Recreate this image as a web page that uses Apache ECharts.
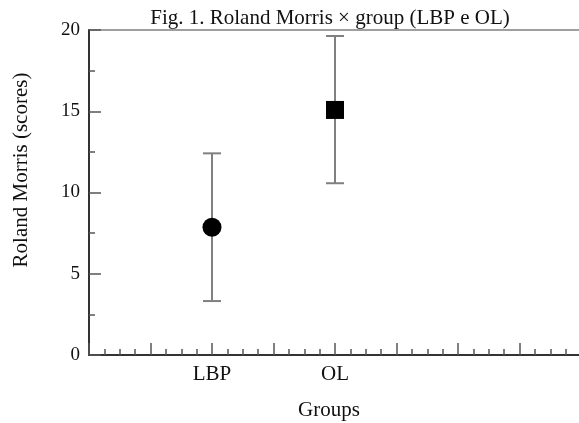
<!DOCTYPE html>
<html>
<head>
<meta charset="utf-8">
<script src="https://cdn.jsdelivr.net/npm/echarts@6/dist/echarts.min.js"></script>
<style>html,body{margin:0;padding:0;background:#fff}#c{width:579px;height:423px}</style>
</head>
<body>
<div id="c"></div>
<script>
var groups = ['LBP', 'OL'];
var positions = [2, 4];
var means = [7.86, 15.08];
var lower = [3.32, 10.57];
var upper = [12.41, 19.63];
var symbols = ['circle', 'rect'];
var yTicks = [0, 5, 10, 15, 20];

var FONT = '"Liberation Serif", "Times New Roman", serif';
var chart = echarts.init(document.getElementById('c'));

var errData = positions.map(function (p, i) { return [p, lower[i], upper[i]]; });
var meanData = positions.map(function (p, i) {
  return { value: [p, means[i]], symbol: symbols[i], symbolSize: symbols[i] === 'rect' ? 18 : 19 };
});

chart.setOption({
  animation: false,
  title: {
    text: 'Fig. 1. Roland Morris \u00d7 group (LBP e OL)',
    left: 325, top: 3, textAlign: 'center',
    textStyle: { fontFamily: FONT, fontSize: 21, fontWeight: 'normal', color: '#111' }
  },
  graphic: [{
    type: 'text', x: 21, y: 170, rotation: Math.PI / 2,
    style: {
      text: 'Roland Morris (scores)', fontFamily: FONT, fontSize: 21, fill: '#111',
      align: 'center', verticalAlign: 'middle'
    }
  }],
  grid: { left: 89, right: -2, top: 30, bottom: 68, outerBoundsMode: 'none', containLabel: false,
          show: true, borderColor: '#808080', borderWidth: 1.5 },
  xAxis: {
    type: 'value', min: 0, max: 8, interval: 1,
    name: 'Groups', nameLocation: 'middle', nameGap: 45,
    nameTextStyle: { fontFamily: FONT, fontSize: 21, color: '#111', padding: [0, 12, 0, 0] },
    axisLine: { show: true, lineStyle: { color: '#333', width: 2 } },
    axisTick: { show: true, inside: true, length: 12, lineStyle: { color: '#555', width: 1.5 } },
    minorTick: { show: true, splitNumber: 4, length: 6, lineStyle: { color: '#555', width: 1.5 } },
    splitLine: { show: false },
    axisLabel: {
      margin: 9, fontFamily: FONT, fontSize: 21, color: '#111',
      formatter: function (v) { var i = positions.indexOf(v); return i >= 0 ? groups[i] : ''; }
    }
  },
  yAxis: {
    type: 'value', min: yTicks[0], max: yTicks[yTicks.length - 1], interval: 5,
    axisLine: { show: true, lineStyle: { color: '#333', width: 2 } },
    axisTick: { show: true, inside: true, length: 12, lineStyle: { color: '#555', width: 1.5 } },
    minorTick: { show: true, splitNumber: 2, length: 6, lineStyle: { color: '#555', width: 1.5 } },
    splitLine: { show: false },
    axisLabel: { margin: 9, fontFamily: FONT, fontSize: 19, color: '#111' }
  },
  series: [
    {
      type: 'custom',
      data: errData,
      z: 1,
      renderItem: function (params, api) {
        var x = api.value(0);
        var lo = api.coord([x, api.value(1)]);
        var hi = api.coord([x, api.value(2)]);
        var hw = 9;
        var style = { stroke: '#808080', lineWidth: 2 };
        return {
          type: 'group',
          children: [
            { type: 'line', shape: { x1: lo[0], y1: lo[1], x2: hi[0], y2: hi[1] }, style: style },
            { type: 'line', shape: { x1: lo[0] - hw, y1: lo[1], x2: lo[0] + hw, y2: lo[1] }, style: style },
            { type: 'line', shape: { x1: hi[0] - hw, y1: hi[1], x2: hi[0] + hw, y2: hi[1] }, style: style }
          ]
        };
      }
    },
    {
      type: 'scatter',
      data: meanData,
      z: 3,
      itemStyle: { color: '#000', opacity: 1 }
    }
  ]
});
</script>
</body>
</html>
